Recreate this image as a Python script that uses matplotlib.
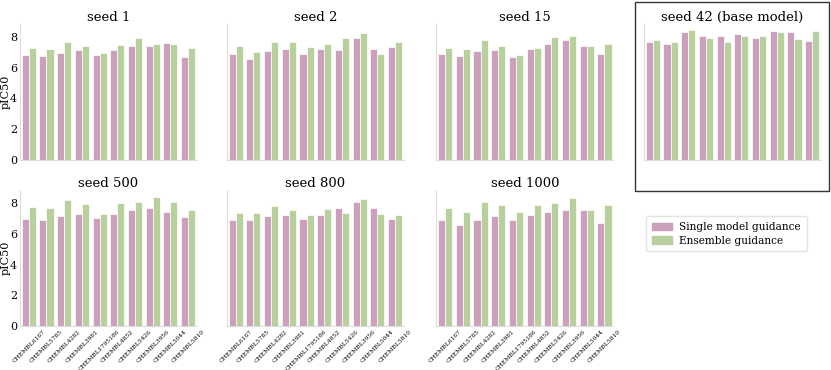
import numpy as np
import matplotlib.pyplot as plt
from matplotlib.patches import Rectangle, Patch

plt.rcParams['font.family'] = ['DejaVu Serif']

targets = ['CHEMBL6167', 'CHEMBL5785', 'CHEMBL4282', 'CHEMBL3981', 'CHEMBL1795186',
           'CHEMBL4852', 'CHEMBL5426', 'CHEMBL3956', 'CHEMBL5044', 'CHEMBL5810']
seeds = ['seed 1', 'seed 2', 'seed 15', 'seed 42 (base model)', 'seed 500', 'seed 800', 'seed 1000']

# pIC50 per target, single model guidance
single = [
    [6.86, 6.80, 6.97, 7.15, 6.86, 7.19, 7.43, 7.43, 7.63, 6.71],
    [6.93, 6.56, 7.12, 7.23, 6.93, 7.21, 7.19, 7.93, 7.23, 7.34],
    [6.88, 6.78, 7.12, 7.19, 6.73, 7.23, 7.52, 7.78, 7.39, 6.93],
    [7.65, 7.58, 8.30, 8.04, 8.10, 8.17, 7.91, 8.41, 8.30, 7.76],
    [6.96, 6.90, 7.18, 7.33, 7.05, 7.27, 7.55, 7.66, 7.44, 7.11],
    [6.90, 6.90, 7.14, 7.25, 6.98, 7.25, 7.70, 8.09, 7.70, 6.94],
    [6.88, 6.55, 6.90, 7.18, 6.88, 7.20, 7.42, 7.59, 7.57, 6.72],
]
# pIC50 per target, ensemble guidance
ensemble = [
    [7.28, 7.23, 7.71, 7.43, 6.97, 7.49, 7.95, 7.58, 7.56, 7.32],
    [7.39, 7.04, 7.71, 7.65, 7.34, 7.58, 7.97, 8.28, 6.93, 7.67],
    [7.30, 7.23, 7.82, 7.45, 6.86, 7.32, 8.00, 8.10, 7.45, 7.52],
    [7.82, 7.65, 8.43, 7.93, 7.69, 8.10, 8.10, 8.34, 7.89, 8.39],
    [7.74, 7.70, 8.24, 7.92, 7.27, 8.00, 8.09, 8.39, 8.07, 7.53],
    [7.38, 7.35, 7.85, 7.55, 7.20, 7.61, 7.38, 8.26, 7.33, 7.20],
    [7.66, 7.40, 8.07, 7.87, 7.46, 7.90, 8.03, 8.37, 7.53, 7.87],
]

pink = '#cc9fbc'
green = '#b8cf9e'

fig = plt.figure(figsize=(8.31, 3.70), dpi=100)

lefts = [0.024, 0.273, 0.525, 0.775]
w = 0.213
rows = [(0.568, 0.367), (0.119, 0.367)]

x = np.arange(len(targets))
for i, name in enumerate(seeds):
    r, c = divmod(i, 4)
    ax = fig.add_axes([lefts[c], rows[r][0], w, rows[r][1]])
    ax.bar(x - 0.2, single[i], 0.4, color=pink, edgecolor='white', linewidth=0.5)
    ax.bar(x + 0.2, ensemble[i], 0.4, color=green, edgecolor='white', linewidth=0.5)
    ax.set_title(name, fontsize=9.5, pad=1.5)
    ax.set_xlim(-0.5, 9.5)
    ax.set_ylim(0, 8.85)
    ax.set_yticks([0, 2, 4, 6, 8])
    for s in ['top', 'right']:
        ax.spines[s].set_visible(False)
    for s in ['left', 'bottom']:
        ax.spines[s].set_color('#dddddd')
        ax.spines[s].set_linewidth(0.8)
    ax.tick_params(length=0, labelsize=8, pad=2)
    ax.set_xticks(x)
    if r == 1:
        ax.set_xticklabels(targets, rotation=45, fontsize=4.3)
    else:
        ax.set_xticklabels([])
    if c == 0:
        ax.set_ylabel('pIC50', fontsize=8)
        ax.yaxis.set_label_coords(-0.055, 0.5)
    else:
        ax.set_yticklabels([])

# frame around the base model panel
fig.patches.append(Rectangle((0.764, 0.484), 0.234, 0.511, transform=fig.transFigure,
                             fill=False, edgecolor='#333333', linewidth=1.0))

handles = [Patch(color=pink, label='Single model guidance'),
           Patch(color=green, label='Ensemble guidance')]
fig.legend(handles=handles, loc='upper left', bbox_to_anchor=(0.771, 0.43),
           fontsize=7.6, frameon=True, edgecolor='#dddddd', handlelength=1.9,
           handletextpad=0.7, labelspacing=0.35, borderpad=0.55)

fig.savefig('out.png', dpi=100)
